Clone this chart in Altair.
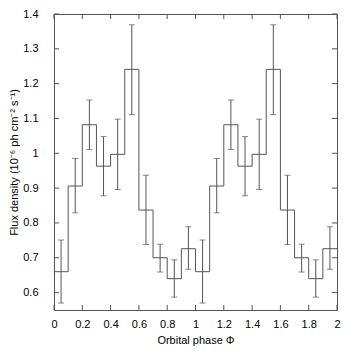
import altair as alt
import pandas as pd

# Flux per phase bin (one orbital cycle, 10 bins), repeated for two cycles
bin_width = 0.1
flux = [0.660, 0.906, 1.082, 0.963, 0.997, 1.241, 0.837, 0.700, 0.640, 0.726]
err_lo = [0.570, 0.829, 1.011, 0.878, 0.896, 1.111, 0.738, 0.659, 0.587, 0.667]
err_hi = [0.751, 0.985, 1.153, 1.048, 1.098, 1.369, 0.937, 0.739, 0.694, 0.789]
n_cycles = 2

x_ticks = [0, 0.2, 0.4, 0.6, 0.8, 1.0, 1.2, 1.4, 1.6, 1.8, 2.0]
y_ticks = [0.6, 0.7, 0.8, 0.9, 1.0, 1.1, 1.2, 1.3, 1.4]

W, H = 283, 296
LINE = "#555555"

rows = []
for c in range(n_cycles):
    for i, v in enumerate(flux):
        start = c + i * bin_width
        rows.append({"start": round(start, 3), "center": round(start + bin_width / 2, 3),
                     "flux": v, "lo": err_lo[i], "hi": err_hi[i]})
df = pd.DataFrame(rows)
step_df = pd.concat([df[["start", "flux"]],
                     pd.DataFrame([{"start": float(n_cycles), "flux": flux[-1]}])],
                    ignore_index=True)

xs = alt.Scale(domain=[0, 2], nice=False, zero=False)
ys = alt.Scale(domain=[0.55, 1.4], nice=False, zero=False)
font = "Liberation Sans"

xaxis = alt.Axis(values=x_ticks, format=".1~f", title="Orbital phase Φ",
                 labelPadding=8, titleY=33, titleBaseline="alphabetic",
                 labelOverlap=False, labelFlush=False, ticks=False, domain=False,
                 grid=False, titleFontWeight="normal")
yaxis = alt.Axis(values=y_ticks, format=".1~f",
                 title="Flux density (10⁻⁶ ph cm⁻² s⁻¹)",
                 labelPadding=16, titleX=-40, titleY=H / 2,
                 titleAngle=270, titleAlign="center", titleBaseline="middle",
                 labelOverlap=False, labelFlush=False, ticks=False, domain=False,
                 grid=False, titleFontWeight="normal")


def X(f):
    return alt.X(f, type="quantitative", scale=xs, axis=xaxis)


def Y(f):
    return alt.Y(f, type="quantitative", scale=ys, axis=yaxis)


step = alt.Chart(step_df).mark_line(interpolate="step-after", color=LINE, strokeWidth=1).encode(
    x=X("start"), y=Y("flux"))

bars = alt.Chart(df).mark_rule(color=LINE, strokeWidth=1).encode(
    x=X("center"), y=Y("lo"), y2="hi:Q")
cap_lo = alt.Chart(df).mark_tick(color=LINE, orient="horizontal", size=6, thickness=1).encode(
    x=X("center"), y=Y("lo"))
cap_hi = alt.Chart(df).mark_tick(color=LINE, orient="horizontal", size=6, thickness=1).encode(
    x=X("center"), y=Y("hi"))

xt = pd.DataFrame({"v": x_ticks})
yt = pd.DataFrame({"v": y_ticks})
TL = 5
tick_b = alt.Chart(xt).mark_rule(color=LINE).encode(x=X("v"), y=alt.value(H), y2=alt.value(H - TL))
tick_t = alt.Chart(xt).mark_rule(color=LINE).encode(x=X("v"), y=alt.value(0), y2=alt.value(TL))
tick_l = alt.Chart(yt).mark_rule(color=LINE).encode(y=Y("v"), x=alt.value(0), x2=alt.value(TL))
tick_r = alt.Chart(yt).mark_rule(color=LINE).encode(y=Y("v"), x=alt.value(W), x2=alt.value(W - TL))

chart = alt.layer(step, bars, cap_lo, cap_hi, tick_b, tick_t, tick_l, tick_r).properties(
    width=W, height=H,
    background="white",
    autosize=alt.AutoSizeParams(type="none"),
    padding={"left": 46, "top": 6, "right": 9, "bottom": 36},
).configure_view(stroke=LINE, strokeWidth=1).configure_axis(
    labelFont=font, titleFont=font, labelFontSize=11, titleFontSize=11,
    labelColor="#000", titleColor="#000",
)

chart.save("out.html", embed_options={"renderer": "svg", "actions": False})
